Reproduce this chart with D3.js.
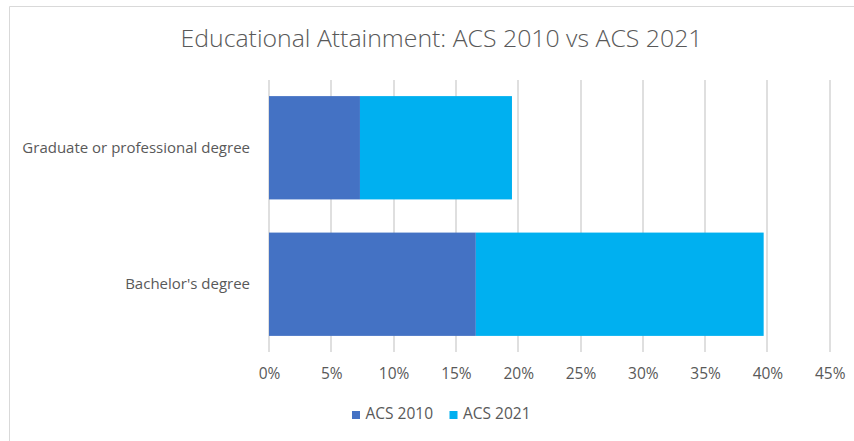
<!DOCTYPE html>
<html><head><meta charset="utf-8">
<script src="https://cdn.jsdelivr.net/npm/d3@7"></script>
<style>body{margin:0;background:#fff}svg{display:block}text{font-family:"Open Sans",sans-serif}</style>
</head><body><svg id="c" width="854" height="441"></svg>
<script>
const categories = ["Graduate or professional degree", "Bachelor's degree"];
const seriesNames = ["ACS 2010", "ACS 2021"];
const acs2010 = [7.3, 16.6];
const acs2021 = [12.2, 23.1];
const tickValues = [0, 5, 10, 15, 20, 25, 30, 35, 40, 45];
const colors = ["#4472C4", "#00B0F0"];

(function () {
const svg = d3.select("#c");
svg.append("rect").attr("x", 0).attr("y", 0).attr("width", 854).attr("height", 441).attr("fill", "#fff");
// chart border (left & top visible)
svg.append("line").attr("x1", 9.5).attr("x2", 9.5).attr("y1", 6.5).attr("y2", 441).attr("stroke", "#d9d9d9");
svg.append("line").attr("x1", 9.5).attr("x2", 854).attr("y1", 6.5).attr("y2", 6.5).attr("stroke", "#d9d9d9");

const pLeft = 269, pRight = 829.7, pTop = 80, pBottom = 352;
const x = d3.scaleLinear().domain([0, 45]).range([pLeft, pRight]);
const y = d3.scaleBand().domain(categories).range([pTop, pBottom]).paddingInner(0.243).paddingOuter(0.118);

// title
svg.append("text").attr("x", 441.5).attr("y", 47).attr("text-anchor", "middle")
  .attr("font-size", 24).attr("font-weight", 300).attr("fill", "#595959")
  .attr("textLength", 522).attr("lengthAdjust", "spacingAndGlyphs")
  .text("Educational Attainment: ACS 2010 vs ACS 2021");

// gridlines
svg.append("g").selectAll("line").data(tickValues).join("line")
  .attr("x1", d => Math.round(x(d))).attr("x2", d => Math.round(x(d)))
  .attr("y1", pTop).attr("y2", pBottom).attr("stroke", "#dcdcdc").attr("stroke-width", 1.8);

// stacked data
const rows = categories.map((c, i) => ({cat: c, "ACS 2010": acs2010[i], "ACS 2021": acs2021[i]}));
const stack = d3.stack().keys(seriesNames)(rows);
svg.append("g").selectAll("g").data(stack).join("g")
  .attr("fill", (d, i) => colors[i])
  .selectAll("rect").data(d => d).join("rect")
  .attr("x", d => x(d[0])).attr("width", d => x(d[1]) - x(d[0]))
  .attr("y", d => y(d.data.cat)).attr("height", y.bandwidth());

// x axis labels
const xAxis = d3.axisBottom(x).tickValues(tickValues).tickFormat(d => d + "%").tickSize(0).tickPadding(0);
const gx = svg.append("g").attr("transform", `translate(0,${367.5})`).call(xAxis);
gx.select(".domain").remove();
gx.selectAll("text").attr("font-size", 15.5).attr("fill", "#595959").attr("font-family", "Open Sans, sans-serif");

// y axis labels
const yAxis = d3.axisLeft(y).tickSize(0).tickPadding(19);
const gy = svg.append("g").attr("transform", `translate(${pLeft},0)`).call(yAxis);
gy.select(".domain").remove();
gy.selectAll("text").attr("font-size", 15).attr("fill", "#595959").attr("font-family", "Open Sans, sans-serif");

// legend
const lx = [352, 449.5];
const lg = svg.append("g").selectAll("g").data(seriesNames).join("g")
  .attr("transform", (d, i) => `translate(${lx[i]},0)`);
lg.append("rect").attr("x", 0).attr("y", 411).attr("width", 8).attr("height", 8).attr("fill", (d, i) => colors[i]);
lg.append("text").attr("x", 13.5).attr("y", 418.5).attr("font-size", 15.5).attr("fill", "#595959").text(d => d);
})();
</script></body></html>
